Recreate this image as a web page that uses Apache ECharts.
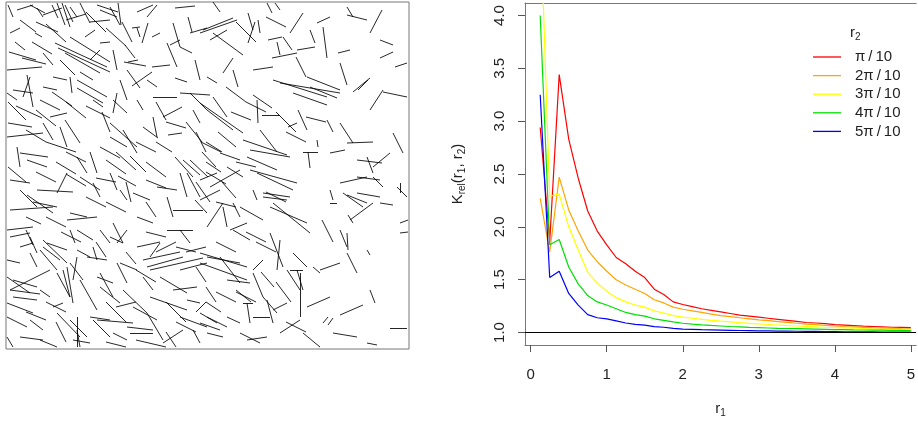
<!DOCTYPE html>
<html>
<head>
<meta charset="utf-8">
<script src="https://cdn.jsdelivr.net/npm/echarts@6/dist/echarts.min.js"></script>
<style>
  html, body { margin: 0; padding: 0; background: #fff; }
  #chart { width: 918px; height: 423px; }
</style>
</head>
<body>
<div id="chart"></div>
<script>
// segment pattern, window units: x 0..403, y 0..347 (measured from the top)
const segments = [
  [2,3,7,15],[11,8,27,3],[24,3,39,11],[31,6,37,15],[46,3,52,16],[51,1,59,23],[56,1,64,25],[59,3,67,20],
  [64,5,71,15],[37,13,56,6],[74,1,84,21],[84,20,104,18],[91,3,112,10],[94,8,111,15],[104,5,114,23],[112,1,115,23],
  [4,31,14,26],[9,40,19,48],[29,31,36,35],[49,41,101,65],[52,46,104,70],[59,51,94,71],[64,35,104,60],[37,51,47,63],
  [79,35,89,28],[94,41,104,40],[107,48,111,68],[1,68,36,65],[21,73,27,105],[24,75,17,95],[7,88,27,91],[37,85,51,88],
  [47,75,61,78],[64,75,66,91],[71,78,101,95],[71,86,97,101],[74,70,87,78],[87,98,97,105],[111,91,107,111],[107,98,121,111],
  [34,98,54,108],[1,91,11,98],[54,58,69,73],[119,43,129,56],[122,60,132,58],[114,78,121,98],[84,58,94,48],
  [131,10,147,3],[141,15,151,3],[167,21,174,45],[182,15,186,30],[184,31,201,26],[169,6,189,4],[161,41,171,65],[164,43,174,38],
  [136,41,142,21],[126,26,134,25],[131,26,134,35],[146,35,154,31],[174,45,186,51],[189,58,194,78],[146,65,164,63],[169,76,181,80],
  [121,68,134,86],[141,78,151,85],[147,95,171,95],[174,91,204,93],[131,98,137,108],[157,115,176,105],[184,91,201,108],[187,108,194,121],
  [137,125,152,136],[147,115,151,135],[162,133,176,131],[104,121,131,145],[117,128,131,151],[94,145,114,156],[2,121,26,125],[1,135,37,131],
  [54,125,61,145],[59,118,74,141],[11,145,14,165],[14,151,42,155],[21,158,41,165],[71,155,81,171],[84,150,91,171],[169,155,187,175],
  [177,158,194,173],[184,158,202,175],[37,121,47,138],[44,115,61,111],[104,135,121,145],
  [194,31,231,18],[197,28,227,16],[204,38,221,28],[207,0,214,10],[207,31,237,53],[242,11,247,28],[242,41,249,20],[252,18,254,31],
  [261,1,266,11],[269,1,274,8],[266,56,291,51],[262,38,276,35],[271,40,274,53],[277,35,286,48],[284,31,297,11],[291,48,309,45],
  [304,28,309,41],[311,21,324,15],[317,25,321,56],[332,51,344,48],[334,61,341,83],[341,5,347,15],[341,13,361,18],[364,31,376,8],
  [347,90,364,76],[352,88,362,78],[374,38,387,43],[374,56,387,50],[389,65,401,61],[364,108,377,88],[377,90,401,95],[247,68,267,65],
  [267,78,321,95],[274,81,334,91],[301,75,334,88],[304,85,331,96],[287,91,321,103],[201,75,211,81],[217,71,227,56],[227,68,232,85],
  [247,93,266,106],[251,98,252,121],[256,113,274,113],[292,108,301,128],[282,125,291,121],[194,101,237,131],[201,108,227,128],[207,95,221,115],
  [321,118,327,130],[334,121,347,141],[341,141,367,140],[387,131,397,151],[297,150,312,150],[302,150,304,166],[237,138,281,153],[244,148,284,155],
  [241,155,271,168],[254,128,271,150],[214,151,234,158],[221,165,237,175],[351,158,376,161],[361,155,367,171],[367,165,384,151],[324,151,339,148],
  [311,138,312,145],
  [4,178,24,181],[14,188,31,205],[21,193,47,211],[27,200,51,205],[31,188,67,190],[61,171,51,191],[74,175,94,188],[87,181,94,195],
  [104,171,111,188],[114,188,121,198],[127,191,144,198],[151,185,171,188],[161,195,167,215],[167,208,197,208],[174,171,181,195],[181,171,194,195],
  [189,198,201,211],[1,228,27,225],[4,235,24,231],[4,208,47,205],[61,218,91,215],[64,211,81,215],[71,228,87,238],[107,221,117,241],
  [111,241,121,228],[131,215,147,221],[161,228,187,228],[174,228,184,241],[131,245,154,240],[137,258,174,250],[141,265,177,255],[144,268,197,256],
  [154,241,144,255],[174,268,201,261],[37,238,61,261],[34,248,51,268],[71,248,84,255],[81,255,101,258],[87,245,91,258],[64,261,77,278],
  [57,268,64,295],[71,255,67,278],[1,275,24,291],[4,288,44,268],[7,295,31,298],[34,288,44,295],[47,305,57,301],[74,278,91,308],
  [91,275,107,281],[94,285,114,301],[117,288,141,311],[127,305,151,318],[137,275,147,288],[154,275,181,291],[167,288,191,285],[144,295,181,308],
  [181,298,194,301],[174,315,201,325],[1,315,21,325],[24,318,37,328],[51,311,74,335],[64,318,81,335],[87,318,104,335],[121,325,147,328],
  [124,331,147,331],[141,311,157,338],[1,335,7,345],[14,335,37,338],[34,338,51,345],[71,328,74,345],[67,338,84,341],[107,331,121,338],
  [157,341,177,328],[187,328,194,341],[14,245,27,241],[1,258,14,261],[94,228,104,241],[114,261,131,268],
  [194,178,211,171],[204,185,234,168],[194,198,214,188],[244,168,291,181],[251,171,287,188],[257,191,284,195],[257,195,281,198],[247,188,251,198],
  [264,205,301,221],[267,201,304,231],[234,205,257,218],[227,201,234,215],[201,225,217,201],[217,205,221,225],[224,228,241,221],[227,228,244,238],
  [264,231,277,265],[274,238,271,268],[287,251,301,265],[284,268,297,268],[291,268,297,288],[294,271,294,315],[281,268,294,288],[194,251,241,265],
  [201,255,234,261],[194,261,241,278],[214,255,234,281],[221,278,244,281],[247,268,257,258],[247,271,257,295],[257,295,271,311],[261,298,267,321],
  [241,301,244,321],[237,301,247,301],[247,315,264,315],[267,308,281,301],[194,311,211,321],[201,315,221,325],[194,321,214,328],[201,331,217,335],
  [221,315,234,321],[234,331,254,341],[241,338,261,335],[274,331,294,318],[297,331,314,345],[301,305,324,295],[317,321,322,315],[322,323,327,316],
  [334,313,357,303],[327,331,351,335],[361,341,371,343],[384,326,401,326],[364,288,369,301],[341,251,351,271],[334,228,341,245],[341,231,342,248],
  [314,268,334,261],[307,265,314,271],[316,218,327,240],[344,218,367,201],[337,191,357,205],[341,193,361,201],[351,191,374,195],[334,181,361,175],
  [351,175,374,178],[367,175,377,185],[391,185,401,195],[394,181,394,191],[324,201,331,201],[324,188,327,198],[374,201,387,203],[394,221,402,218],
  [394,231,402,230],[361,248,364,253],[342,213,347,221],
  [14,18,30,30],[3,50,30,58],[26,40,46,52],[30,20,52,30],[16,56,40,62],[60,18,80,12],[80,10,100,30],[40,22,60,40],
  [100,26,120,44],[116,20,126,40],[118,60,140,64],[126,84,146,70],[2,100,20,118],[10,104,36,116],[30,108,50,124],[46,90,66,104],
  [60,100,80,116],[80,104,104,116],[96,110,104,130],[20,128,40,140],[40,140,70,150],[60,150,80,160],[100,158,120,172],[110,150,130,168],
  [124,154,140,170],[130,140,150,150],[150,140,166,150],[160,120,180,126],[150,100,160,118],[180,120,196,140],[190,130,200,150],[200,140,216,150],
  [196,150,210,165],[140,160,160,175],[30,170,50,180],[2,165,20,180],[50,160,70,172],[60,172,80,184],[90,176,110,180],[112,174,130,184],
  [140,178,160,186],[200,170,220,182],[216,180,230,196],[190,180,204,200],
  [20,228,27,243],[24,235,31,251],[41,241,61,248],[64,228,69,241],[104,235,117,241],[24,251,31,265],[37,245,54,258],[7,278,31,285],
  [4,288,34,292],[51,271,64,295],[61,265,67,301],[94,271,107,295],[111,261,121,281],[1,301,27,311],[84,315,104,318],[91,318,127,321],
  [71,315,71,345],[120,250,130,262],[130,268,150,280],[150,250,170,240],[100,300,120,320],[110,305,130,300],[160,300,180,320],[170,320,190,330],
  [190,310,200,300],[180,250,200,245],[190,265,200,280],[200,285,210,300],[210,290,230,300],[230,288,245,300],[160,330,170,345],[130,338,160,345],
  [100,340,120,345],[50,320,60,340],[40,300,60,310],[20,310,40,318],[120,180,125,200],[140,200,150,215],[100,200,120,210],[80,195,100,205],
  [40,215,60,225],[20,215,35,222],[55,230,75,240],[90,240,100,255],[140,230,160,235],[170,245,190,250],
  [230,20,250,40],[260,15,280,25],[290,55,300,75],[220,85,240,100],[240,100,260,110],[225,110,245,118],[270,110,290,130],[280,130,300,140],
  [300,115,320,120],[212,130,230,145],[195,140,215,150],[260,190,280,200],[210,200,230,205],[240,230,260,240],[250,240,270,250],[210,240,230,250],
  [230,290,250,300],[270,280,285,300],[200,300,215,310],[280,320,300,330],[230,160,250,165],[200,160,215,170],[255,270,268,285]
];

// K_rel(r1, r2) curves
const r1 = [0.125, 0.25, 0.375, 0.5, 0.625, 0.75, 0.875, 1, 1.125, 1.25, 1.375, 1.5, 1.625, 1.75, 1.875, 2,
  2.125, 2.25, 2.375, 2.5, 2.625, 2.75, 2.875, 3, 3.125, 3.25, 3.375, 3.5, 3.625, 3.75, 3.875, 4,
  4.125, 4.25, 4.375, 4.5, 4.625, 4.75, 4.875, 5];
const k1 = [2.94, 1.86, 3.44, 2.83, 2.46, 2.15, 1.96, 1.83, 1.71, 1.65, 1.58, 1.52, 1.41, 1.36, 1.29, 1.265,
  1.245, 1.225, 1.21, 1.195, 1.18, 1.165, 1.155, 1.145, 1.135, 1.125, 1.115, 1.105, 1.095, 1.09, 1.085, 1.075,
  1.07, 1.065, 1.06, 1.057, 1.054, 1.05, 1.048, 1.046];
const k2 = [2.27, 1.76, 2.47, 2.16, 1.96, 1.78, 1.67, 1.58, 1.50, 1.45, 1.41, 1.37, 1.31, 1.28, 1.24, 1.22,
  1.205, 1.19, 1.175, 1.16, 1.15, 1.14, 1.13, 1.12, 1.112, 1.104, 1.096, 1.088, 1.08, 1.074, 1.068, 1.062,
  1.057, 1.053, 1.049, 1.045, 1.042, 1.039, 1.036, 1.034];
const k3 = [5.0, 2.29, 2.31, 2.0, 1.78, 1.57, 1.47, 1.39, 1.33, 1.29, 1.26, 1.24, 1.205, 1.185, 1.16, 1.145,
  1.135, 1.125, 1.115, 1.107, 1.1, 1.093, 1.087, 1.081, 1.076, 1.071, 1.066, 1.062, 1.058, 1.054, 1.05, 1.047,
  1.044, 1.041, 1.038, 1.035, 1.033, 1.031, 1.029, 1.027];
const k4 = [4.0, 1.83, 1.88, 1.62, 1.46, 1.35, 1.29, 1.26, 1.225, 1.19, 1.17, 1.155, 1.13, 1.115, 1.1, 1.088,
  1.08, 1.073, 1.067, 1.062, 1.057, 1.053, 1.049, 1.046, 1.043, 1.04, 1.038, 1.036, 1.034, 1.032, 1.03, 1.028,
  1.027, 1.025, 1.024, 1.023, 1.022, 1.021, 1.02, 1.019];
const k5 = [3.25, 1.52, 1.58, 1.37, 1.26, 1.17, 1.14, 1.13, 1.11, 1.09, 1.078, 1.07, 1.055, 1.05, 1.04, 1.033,
  1.03, 1.027, 1.025, 1.023, 1.021, 1.019, 1.018, 1.016, 1.015, 1.014, 1.013, 1.012, 1.011, 1.01, 1.009, 1.008,
  1.007, 1.007, 1.006, 1.006, 1.005, 1.005, 1.004, 1.004];

const curveNames = ['π\u2009/\u200910', '2π\u2009/\u200910', '3π\u2009/\u200910', '4π\u2009/\u200910', '5π\u2009/\u200910'];
const curveValues = [k1, k2, k3, k4, k5];
const curveColors = ['#ff0000', '#ffa500', '#ffff00', '#00e000', '#0000ff'];
const xTicks = [0, 1, 2, 3, 4, 5];
const yTicks = [1, 1.5, 2, 2.5, 3, 3.5, 4];

const font = 'Liberation Sans, Arial, sans-serif';
const frame = { show: true, onZero: false, lineStyle: { color: '#777', width: 1 } };
const subRich = { s: { fontFamily: font, fontSize: 10, lineHeight: 10, verticalAlign: 'bottom', color: '#222' } };
const chart = echarts.init(document.getElementById('chart'));

const curveSeries = curveValues.map((vals, i) => ({
  name: curveNames[i],
  type: 'line',
  xAxisIndex: 1,
  yAxisIndex: 1,
  symbol: 'none',
  clip: true,
  color: curveColors[i],
  lineStyle: { width: 1.2, color: curveColors[i] },
  data: r1.map((x, j) => [x, vals[j]]),
  markLine: i === 0 ? {
    silent: true,
    symbol: 'none',
    label: { show: false },
    lineStyle: { color: '#000', width: 1, type: 'solid' },
    data: [{ yAxis: 1 }]
  } : undefined
}));

chart.setOption({
  animation: false,
  textStyle: { fontFamily: font },
  title: {
    text: 'r{s|2}',
    left: 850,
    top: 24,
    padding: 0,
    textStyle: { fontFamily: font, fontSize: 15, fontWeight: 'normal', color: '#222', lineHeight: 18, rich: subRich }
  },
  legend: {
    data: curveNames,
    orient: 'vertical',
    left: 813,
    top: 49,
    padding: 0,
    icon: 'rect',
    itemWidth: 28,
    itemHeight: 1.3,
    itemGap: 2.6,
    textStyle: { fontFamily: font, fontSize: 15, color: '#222', lineHeight: 16, padding: [0, 0, 0, 9] }
  },
  grid: [
    { left: 6, top: 2, width: 403, height: 347, show: true, borderColor: '#777', borderWidth: 1, backgroundColor: 'transparent' },
    { left: 525, top: 3, width: 393, height: 346 }
  ],
  xAxis: [
    { gridIndex: 0, type: 'value', min: 0, max: 403, show: false },
    {
      gridIndex: 1, type: 'value', min: -0.075, max: 5.07,
      name: 'r{s|1}', nameLocation: 'middle', nameGap: 55,
      nameTextStyle: { fontFamily: font, fontSize: 15, color: '#222', lineHeight: 18, rich: subRich },
      axisLine: frame,
      axisTick: { show: true, length: 7, lineStyle: { color: '#555' }, customValues: xTicks },
      axisLabel: { fontFamily: font, fontSize: 15, color: '#222', margin: 22, customValues: xTicks },
      splitLine: { show: false }
    },
    {
      gridIndex: 1, type: 'value', min: -0.075, max: 5.07, position: 'top',
      axisLine: frame, axisTick: { show: false }, axisLabel: { show: false }, splitLine: { show: false }
    }
  ],
  yAxis: [
    { gridIndex: 0, type: 'value', min: 0, max: 347, inverse: true, show: false },
    {
      gridIndex: 1, type: 'value', min: 0.882, max: 4.118,
      name: 'K{s|rel}(r{s|1}, r{s|2})', nameLocation: 'middle', nameGap: 58, nameRotate: 90,
      nameTextStyle: { fontFamily: font, fontSize: 15, color: '#222', lineHeight: 18, rich: subRich },
      axisLine: frame,
      axisTick: { show: true, length: 7, lineStyle: { color: '#555' }, customValues: yTicks },
      axisLabel: {
        fontFamily: font, fontSize: 15, color: '#222', margin: 18, rotate: 90,
        customValues: yTicks, formatter: v => v.toFixed(1)
      },
      splitLine: { show: false }
    }
  ],
  series: [
    {
      type: 'lines',
      coordinateSystem: 'cartesian2d',
      xAxisIndex: 0,
      yAxisIndex: 0,
      silent: true,
      lineStyle: { color: '#000', width: 1, opacity: 0.85 },
      data: segments.map(s => ({ coords: [[s[0], s[1]], [s[2], s[3]]] }))
    },
    ...curveSeries
  ]
});
</script>
</body>
</html>
